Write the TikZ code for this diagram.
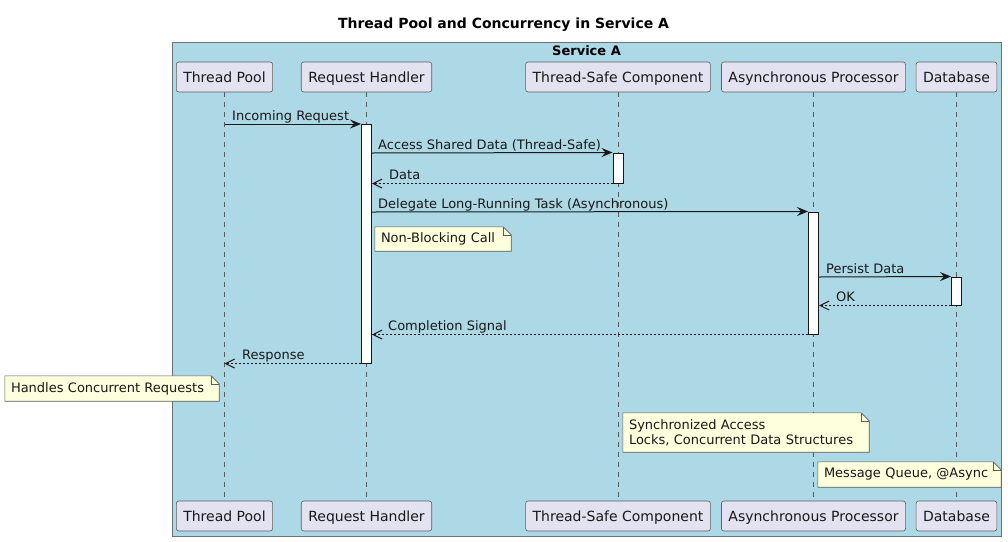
\documentclass[tikz,border=0pt]{standalone}
\usepackage{fontspec}
\setmainfont{DejaVu Sans}
\usetikzlibrary{arrows.meta,backgrounds,calc}
\definecolor{svc}{HTML}{ADD8E6}
\definecolor{svcline}{HTML}{707070}
\definecolor{partfill}{HTML}{E2E2F0}
\definecolor{ink}{HTML}{181818}
\definecolor{lifeink}{HTML}{5A5A5A}
\definecolor{notefill}{HTML}{FEFFDD}
\newcommand{\mynotefold}[1]{%
  \draw[noteline] (#1.north west) -- ([xshift=-8pt]#1.north east) -- ([yshift=-8pt]#1.north east) -- (#1.south east) -- (#1.south west) -- cycle;
  \draw[noteline,fill=none] ([xshift=-8pt]#1.north east) |- ([yshift=-8pt]#1.north east);}
\begin{document}
\begin{tikzpicture}[x=1pt,y=-1pt,
  part/.style={draw=ink!70, line width=0.6pt, fill=partfill, rounded corners=2.5pt,
    minimum height=30pt, inner xsep=7pt, inner ysep=0pt, text depth=0pt, font=\fontsize{14}{16}\selectfont, text=ink},
  life/.style={draw=lifeink, line width=0.6pt, dash pattern=on 5pt off 5pt},
  act/.style={draw=ink, line width=1pt, fill=white, minimum width=10pt, inner sep=0pt},
  msg/.style={draw=ink, line width=1pt, -{Stealth[length=11pt,width=9pt,inset=4pt]}},
  ret/.style={draw=ink, line width=1pt, dash pattern=on 2pt off 2pt, -{Straight Barb[length=9pt,width=9pt,line width=1pt]}},
  lbl/.style={anchor=base west, inner sep=0pt, font=\fontsize{13}{15}\selectfont, text=ink},
  notetxt/.style={inner xsep=6pt, inner ysep=0pt, align=left, font=\fontsize{13}{15}\selectfont, text=ink},
  noteline/.style={draw=ink!70, line width=0.6pt, fill=notefill},
  svcbox/.style={draw=svcline, line width=1pt, fill=svc, inner sep=0pt}
]
\useasboundingbox (0,0) rectangle (1008,541);

% title
\node[anchor=base, inner sep=0pt, font=\bfseries\fontsize{14}{16}\selectfont] (title) at (503.5,28) {Thread Pool and Concurrency in Service A};

% service box
\begin{scope}[on background layer]
\node[svcbox, minimum width=829pt, minimum height=493.5pt] (svcA) at (586.5,289.25) {};
\end{scope}
\node[anchor=base, inner sep=0pt, font=\bfseries\fontsize{13}{15}\selectfont] (svcLabel) at (586.5,55) {Service A};

% participants
\node[part] (tpT) at (224.5,77) {Thread Pool};
\node[part] (rhT) at (366.5,77) {Request Handler};
\node[part] (tsT) at (618,77) {Thread-Safe Component};
\node[part] (apT) at (813.5,77) {Asynchronous Processor};
\node[part] (dbT) at (956.5,77) {Database};
\node[part] (tpB) at (224.5,516) {Thread Pool};
\node[part] (rhB) at (366.5,516) {Request Handler};
\node[part] (tsB) at (618,516) {Thread-Safe Component};
\node[part] (apB) at (813.5,516) {Asynchronous Processor};
\node[part] (dbB) at (956.5,516) {Database};

% lifelines
\begin{scope}[on background layer]
\draw[life] (tpT.south) -- (tpB.north);
\draw[life] (rhT.south) -- (rhB.north);
\draw[life] (tsT.south) -- (tsB.north);
\draw[life] (apT.south) -- (apB.north);
\draw[life] (dbT.south) -- (dbB.north);
\end{scope}

% activations
\node[act, minimum height=239pt] (aRH) at (366.5,243.5) {};
\node[act, minimum height=30pt] (aTS) at (618,168) {};
\node[act, minimum height=122pt] (aAP) at (813.5,273) {};
\node[act, minimum height=28pt] (aDB) at (956.5,291) {};

% messages
\draw[msg] (tpT |- 0,124) -- (aRH.west |- 0,124);
\node[lbl] (l1) at (232,120) {Incoming Request};
\draw[msg] (aRH.east |- 0,153) -- (aTS.north west);
\node[lbl] (l2) at (378,149) {Access Shared Data (Thread-Safe)};
\draw[ret] (aTS.south west) -- (aRH.east |- aTS.south west);
\node[lbl] (l3) at (389,179) {Data};
\draw[msg] (aRH.east |- 0,212) -- (aAP.north west);
\node[lbl] (l4) at (378,208) {Delegate Long-Running Task (Asynchronous)};
\draw[msg] (aAP.east |- 0,277) -- (aDB.north west);
\node[lbl] (l5) at (826,273) {Persist Data};
\draw[ret] (aDB.south west) -- (aAP.east |- aDB.south west);
\node[lbl] (l6) at (836,301) {OK};
\draw[ret] (aAP.south west) -- (aRH.east |- aAP.south west);
\node[lbl] (l7) at (388,330) {Completion Signal};
\draw[ret] (aRH.south west) -- (tpT |- aRH.south west);
\node[lbl] (l8) at (242,359) {Response};

% notes
\node[notetxt, text width=124pt, minimum height=24pt] (n1) at (443,239) {Non-Blocking Call};
\node[notetxt, text width=202pt, minimum height=25pt] (n2) at (112,388.5) {Handles Concurrent Requests};
\node[notetxt, text width=234pt, minimum height=39pt] (n3) at (746,432.5) {Synchronized Access\\Locks, Concurrent Data Structures};
\node[notetxt, text width=171pt, minimum height=25pt] (n4) at (909.5,474.5) {Message Queue, @Async};
\begin{scope}[on background layer]
\mynotefold{n1}
\mynotefold{n2}
\mynotefold{n3}
\mynotefold{n4}
\end{scope}
\end{tikzpicture}
\end{document}
